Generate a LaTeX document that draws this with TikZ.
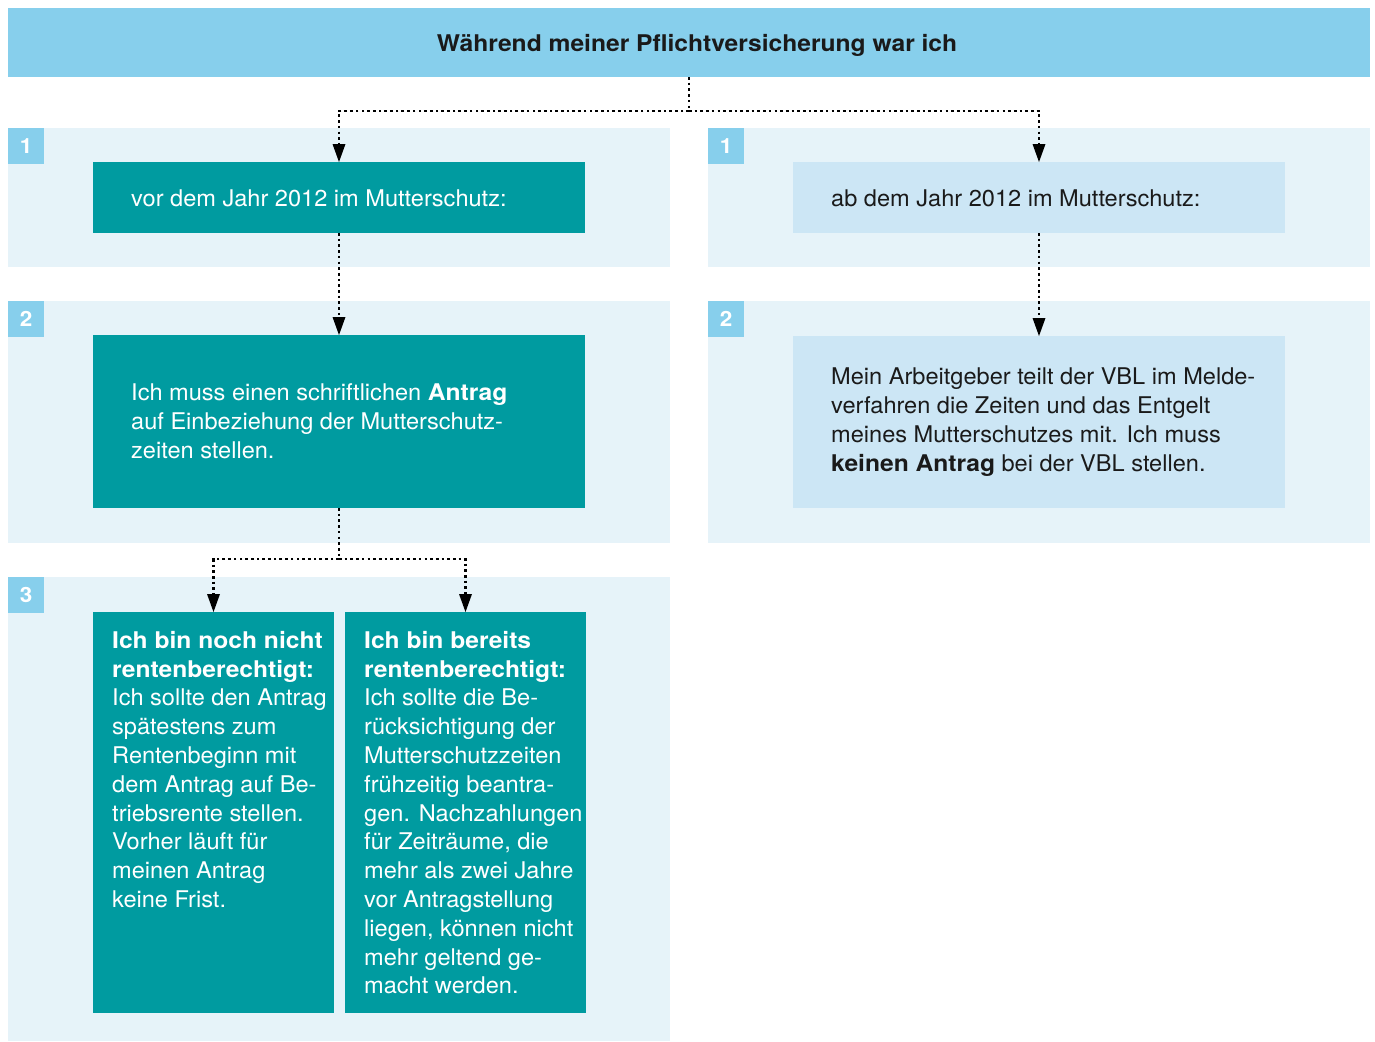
\documentclass[tikz,border=0pt]{standalone}
\usepackage{fontspec}
\setmainfont{TeX Gyre Heros}[UprightFeatures={FakeStretch=1.025},BoldFeatures={FakeStretch=1.07}]
\usetikzlibrary{arrows.meta}
\definecolor{hdrc}{HTML}{87CFEC}
\definecolor{panelc}{HTML}{E6F3F9}
\definecolor{tealc}{HTML}{009BA0}
\definecolor{palec}{HTML}{CCE6F5}
\definecolor{inkc}{HTML}{1A1A1A}
\begin{document}
\begin{tikzpicture}[x=1pt,y=-1pt,
  rectbox/.style={anchor=north west,inner sep=0pt,outer sep=0pt,draw=none},
  panelbg/.style={rectbox,fill=panelc},
  badge/.style={rectbox,fill=hdrc,minimum width=36pt,minimum height=36pt,
     text=white,font=\fontsize{21}{24}\selectfont\bfseries},
  tealbox/.style={rectbox,fill=tealc},
  palebox/.style={rectbox,fill=palec},
  txt/.style={inner sep=0pt,align=left,font=\fontsize{23}{28.8}\selectfont},
  wtxt/.style={txt,text=white},
  btxt/.style={txt,text=inkc},
  dots/.style={line width=2.6pt,dash pattern=on 2.6pt off 3.1pt,black},
  conn/.style={dots,-{Triangle[width=13pt,length=18pt,line width=0pt]},shorten >=0pt}
]
\useasboundingbox (0,0) rectangle (1375,1041);
% header
\node[rectbox,fill=hdrc,minimum width=1362pt,minimum height=69pt] (hdr) at (8,8) {};
\node[inner sep=0pt,font=\fontsize{23}{25}\selectfont\bfseries,text=inkc] (hdrt) at ([xshift=8pt,yshift=-3pt]hdr.center) {Während meiner Pflichtversicherung war ich};
% panels
\node[panelbg,minimum width=662pt,minimum height=139pt] (pL1) at (8,128) {};
\node[panelbg,minimum width=662pt,minimum height=139pt] (pR1) at (708,128) {};
\node[panelbg,minimum width=662pt,minimum height=242pt] (pL2) at (8,301) {};
\node[panelbg,minimum width=662pt,minimum height=242pt] (pR2) at (708,301) {};
\node[panelbg,minimum width=662pt,minimum height=464pt] (pL3) at (8,577) {};
% badges
\node[badge] (kL1) at (8,128) {1};
\node[badge] (kR1) at (708,128) {1};
\node[badge] (kL2) at (8,301) {2};
\node[badge] (kR2) at (708,301) {2};
\node[badge] (kL3) at (8,577) {3};
% boxes
\node[tealbox,minimum width=492pt,minimum height=71pt] (b1L) at (93,162) {};
\node[palebox,minimum width=492pt,minimum height=71pt] (b1R) at (793,162) {};
\node[tealbox,minimum width=492pt,minimum height=173pt] (b2L) at (93,335) {};
\node[palebox,minimum width=492pt,minimum height=172pt] (b2R) at (793,336) {};
\node[tealbox,minimum width=241pt,minimum height=401pt] (b3a) at (93,612) {};
\node[tealbox,minimum width=241pt,minimum height=401pt] (b3b) at (345,612) {};
% texts
\node[wtxt,anchor=west] (t1L) at ([xshift=38pt,yshift=-1pt]b1L.west) {vor dem Jahr 2012 im Mutterschutz:};
\node[btxt,anchor=west] (t1R) at ([xshift=38pt,yshift=-1pt]b1R.west) {ab dem Jahr 2012 im Mutterschutz:};
\node[wtxt,anchor=west] (t2L) at ([xshift=38pt]b2L.west) {Ich muss einen schriftlichen \textbf{Antrag}\\auf Einbeziehung der Mutterschutz-\\zeiten stellen.};
\node[btxt,anchor=west] (t2R) at ([xshift=38pt]b2R.west) {Mein Arbeitgeber teilt der VBL im Melde-\\verfahren die Zeiten und das Entgelt\\meines Mutterschutzes mit. Ich muss\\\textbf{keinen Antrag} bei der VBL stellen.};
\node[wtxt,anchor=north west] (t3a) at (112,631) {\textbf{Ich bin noch nicht}\\\textbf{rentenberechtigt:}\\Ich sollte den Antrag\\spätestens zum\\Rentenbeginn mit\\dem Antrag auf Be-\\triebsrente stellen.\\Vorher läuft für\\meinen Antrag\\keine Frist.};
\node[wtxt,anchor=north west] (t3b) at (364,631) {\textbf{Ich bin bereits}\\\textbf{rentenberechtigt:}\\Ich sollte die Be-\\rücksichtigung der\\Mutterschutzzeiten\\frühzeitig beantra-\\gen. Nachzahlungen\\für Zeiträume, die\\mehr als zwei Jahre\\vor Antragstellung\\liegen, können nicht\\mehr geltend ge-\\macht werden.};
% connectors
\coordinate (j1) at ([yshift=-34pt]hdr.south);
\draw[dots] (hdr.south) -- (j1);
\draw[conn] (j1) -| (b1L.north);
\draw[conn] (j1) -| (b1R.north);
\draw[conn] (b1L.south) -- (b2L.north);
\draw[conn] (b1R.south) -- (b2R.north);
\coordinate (j2) at ([yshift=-51pt]b2L.south);
\draw[dots] (b2L.south) -- (j2);
\draw[conn] (j2) -| (b3a.north);
\draw[conn] (j2) -| (b3b.north);
\end{tikzpicture}
\end{document}
